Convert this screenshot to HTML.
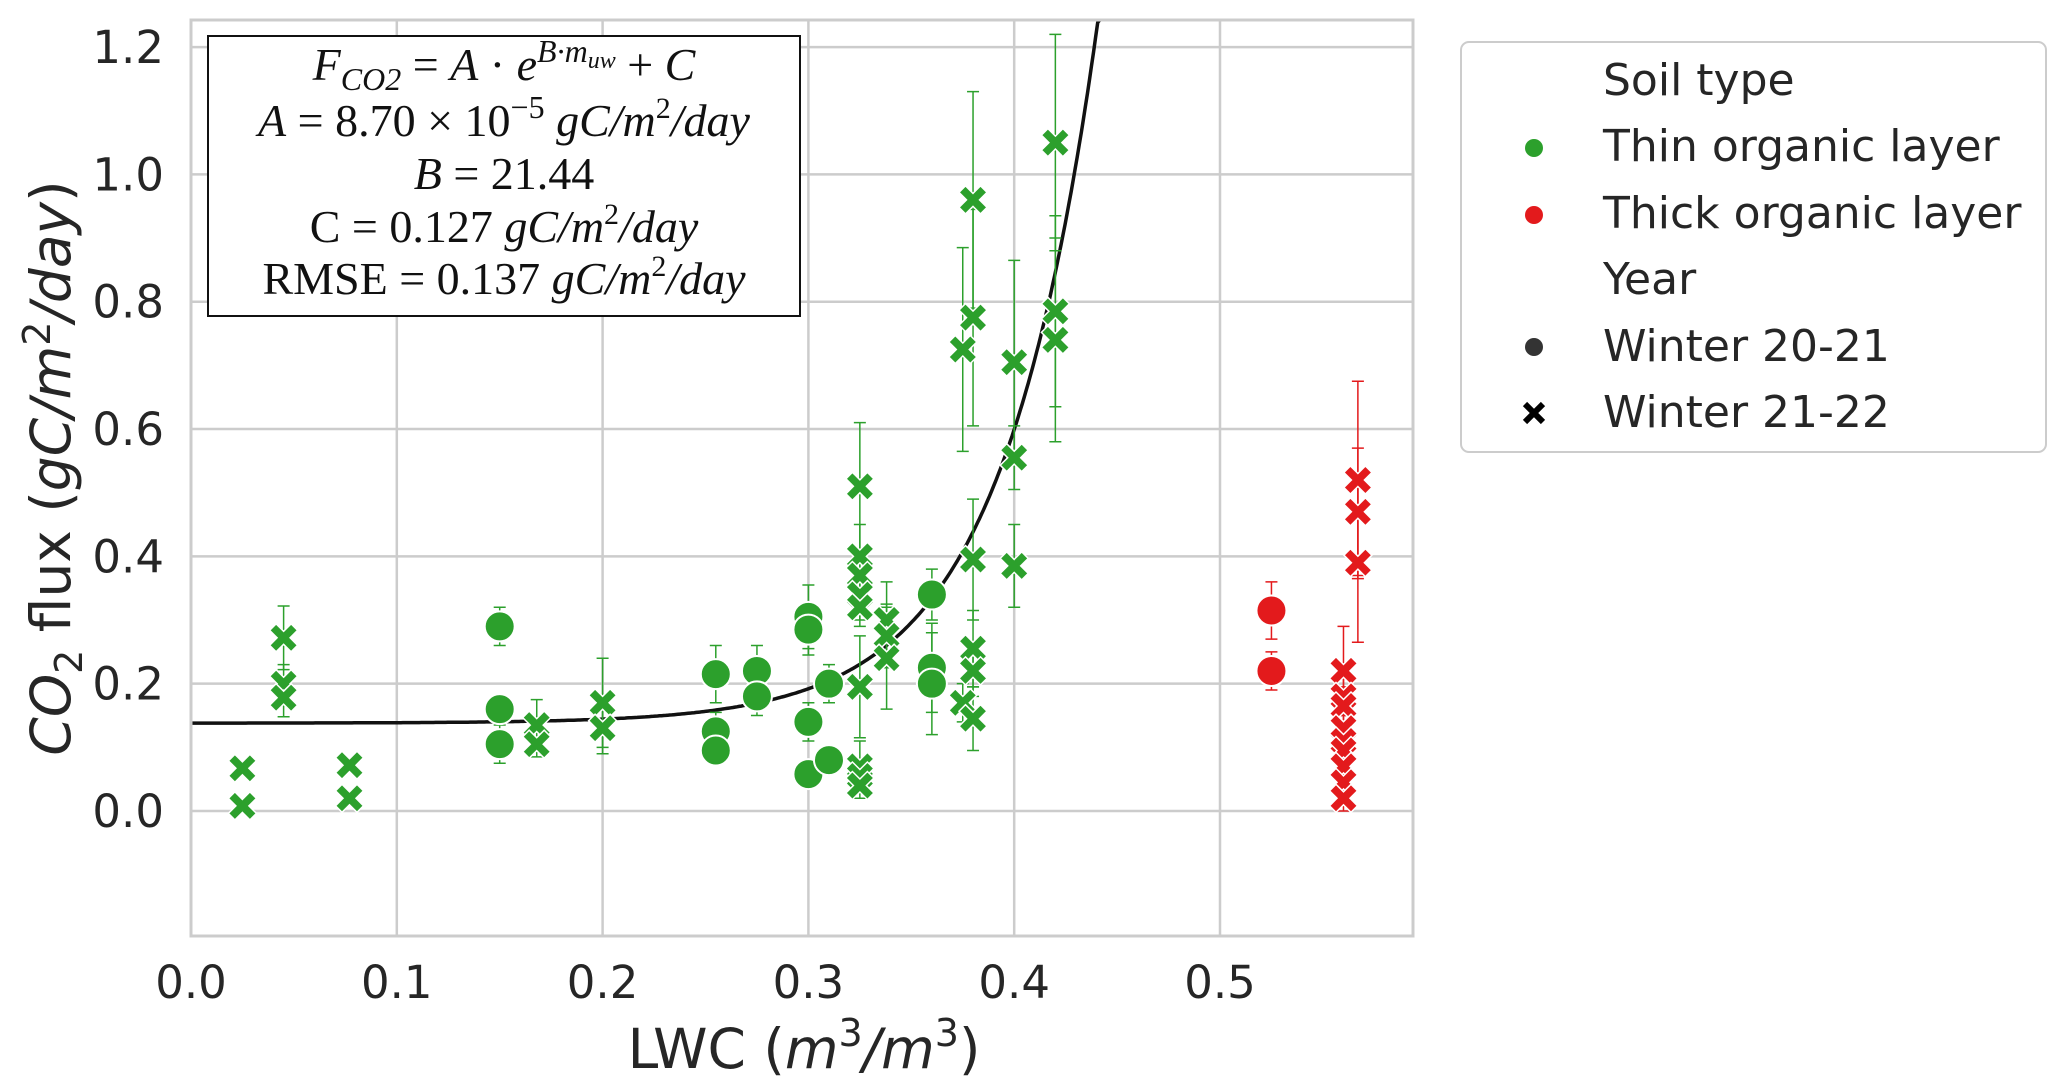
<!DOCTYPE html>
<html><head><meta charset="utf-8">
<style>
html,body{margin:0;padding:0;background:#fff;}
svg{display:block;}
text{font-family:"DejaVu Sans","Liberation Sans",sans-serif;fill:#262626;}
.mt{font-family:"Liberation Serif",serif;fill:#111;}
</style></head>
<body>
<svg id="chart" width="2067" height="1091" viewBox="0 0 2067 1091" xmlns="http://www.w3.org/2000/svg">
  <g id="grid"></g>
  <g id="curve"></g>
  <g id="points"></g>
  <g id="ticks"></g>
  <rect x="191" y="20" width="1222" height="916" fill="none" stroke="#cccccc" stroke-width="3"/>
  <g>
    <rect x="208" y="36" width="592" height="280" fill="#fff" stroke="#111" stroke-width="2"/>
    <text class="mt" x="504" y="80" text-anchor="middle" font-size="46"><tspan font-style="italic">F</tspan><tspan font-style="italic" font-size="32" dy="10">CO2</tspan><tspan dy="-10"> = </tspan><tspan font-style="italic">A</tspan> · <tspan font-style="italic">e</tspan><tspan font-style="italic" font-size="32" dy="-18">B·m</tspan><tspan font-style="italic" font-size="24" dy="6">uw</tspan><tspan dy="12">  + </tspan><tspan font-style="italic">C</tspan></text>
    <text class="mt" x="504" y="136" text-anchor="middle" font-size="46"><tspan font-style="italic">A</tspan> = 8.70 × 10<tspan font-size="32" dy="-18">−5</tspan><tspan dy="18" font-style="italic"> gC</tspan><tspan font-style="italic">/m</tspan><tspan font-size="30" dy="-18">2</tspan><tspan dy="18" font-style="italic">/day</tspan></text>
    <text class="mt" x="504" y="189" text-anchor="middle" font-size="46"><tspan font-style="italic">B</tspan> = 21.44</text>
    <text class="mt" x="504" y="242" text-anchor="middle" font-size="46">C = 0.127 <tspan font-style="italic">gC/m</tspan><tspan font-size="30" dy="-18">2</tspan><tspan dy="18" font-style="italic">/day</tspan></text>
    <text class="mt" x="504" y="294" text-anchor="middle" font-size="46">RMSE = 0.137 <tspan font-style="italic">gC/m</tspan><tspan font-size="30" dy="-18">2</tspan><tspan dy="18" font-style="italic">/day</tspan></text>
  </g>
  <text transform="translate(70,468) rotate(-90)" text-anchor="middle" font-size="55"><tspan font-style="italic">CO</tspan><tspan font-size="38" dy="12">2</tspan><tspan dy="-12"> flux (</tspan><tspan font-style="italic">gC/m</tspan><tspan font-size="38" dy="-20">2</tspan><tspan dy="20" font-style="italic">/day</tspan>)</text>
  <text x="804" y="1068" text-anchor="middle" font-size="55">LWC (<tspan font-style="italic">m</tspan><tspan font-size="38" dy="-22">3</tspan><tspan dy="22" font-style="italic">/m</tspan><tspan font-size="38" dy="-22">3</tspan><tspan dy="22">)</tspan></text>
  <g>
    <rect x="1461" y="42" width="585" height="410" rx="8" fill="#fff" stroke="#cccccc" stroke-width="2"/>
    <text x="1603" y="95" font-size="44">Soil type</text>
    <circle cx="1534" cy="148" r="9" fill="#2ca02c"/>
    <text x="1603" y="161" font-size="44">Thin organic layer</text>
    <circle cx="1534" cy="215" r="9" fill="#e31a1c"/>
    <text x="1603" y="228" font-size="44">Thick organic layer</text>
    <text x="1603" y="294" font-size="44">Year</text>
    <circle cx="1534" cy="347" r="9" fill="#333"/>
    <text x="1603" y="361" font-size="44">Winter 20-21</text>
    <path d="M1525,404 L1543,422 M1543,404 L1525,422" stroke="#000" stroke-width="6"/>
    <text x="1603" y="427" font-size="44">Winter 21-22</text>
  </g>
</svg>
<script>
const xTicks=[0.0,0.1,0.2,0.3,0.4,0.5];
const yTicks=[0.0,0.2,0.4,0.6,0.8,1.0,1.2];
const fitParams=[8.7e-5,21.44,0.138];
// thin layer, winter 20-21 (circles)
const thinCircX=[0.15,0.15,0.15,0.255,0.255,0.255,0.275,0.275,0.30,0.30,0.30,0.30,0.31,0.31,0.36,0.36,0.36];
const thinCircY=[0.29,0.16,0.105,0.215,0.125,0.095,0.22,0.18,0.305,0.285,0.14,0.058,0.2,0.08,0.34,0.225,0.2];
const thinCircE=[0.03,0.02,0.03,0.045,0.03,0.02,0.04,0.03,0.05,0.04,0.03,0.02,0.03,0.02,0.04,0.07,0.08];
// thin layer, winter 21-22 (X)
const thinXX=[0.025,0.025,0.045,0.045,0.045,0.077,0.077,0.168,0.168,0.2,0.2,0.325,0.325,0.325,0.325,0.325,0.325,0.325,0.325,0.325,0.338,0.338,0.338,0.375,0.375,0.38,0.38,0.38,0.38,0.38,0.38,0.40,0.40,0.40,0.42,0.42,0.42];
const thinXY=[0.067,0.008,0.272,0.2,0.178,0.072,0.02,0.135,0.105,0.17,0.13,0.51,0.4,0.37,0.34,0.32,0.195,0.07,0.055,0.04,0.3,0.275,0.24,0.725,0.17,0.96,0.775,0.395,0.255,0.22,0.145,0.705,0.555,0.385,1.05,0.785,0.74];
const thinXE=[0.01,0.01,0.05,0.03,0.03,0.01,0.01,0.04,0.02,0.07,0.04,0.1,0.05,0.04,0.04,0.03,0.08,0.04,0.02,0.02,0.06,0.05,0.08,0.16,0.03,0.17,0.17,0.095,0.06,0.04,0.05,0.16,0.05,0.065,0.17,0.15,0.16];
// thick layer
const thickCircX=[0.525,0.525];
const thickCircY=[0.315,0.22];
const thickCircE=[0.045,0.03];
const thickXX=[0.567,0.567,0.567,0.56,0.56,0.56,0.56,0.56,0.56,0.56,0.56,0.56];
const thickXY=[0.52,0.47,0.39,0.22,0.18,0.165,0.13,0.11,0.095,0.07,0.045,0.02];
const thickXE=[0.155,0.1,0.125,0.07,0.03,0.03,0.03,0.02,0.02,0.02,0.02,0.02];

const NS="http://www.w3.org/2000/svg";
const L=191,R=1413,T=20,B=936;
function sx(v){return 191+v*2058;}
function sy(v){return 811-v*636.6;}
function mk(tag,parent){const e=document.createElementNS(NS,tag);parent.appendChild(e);return e;}

const grid=document.getElementById('grid'),ticks=document.getElementById('ticks');
xTicks.forEach(t=>{
  const l=mk('line',grid);
  
  
  l.setAttribute('x1',sx(t));l.setAttribute('x2',sx(t));l.setAttribute('y1',T);l.setAttribute('y2',B);
  l.setAttribute('stroke','#cccccc');l.setAttribute('stroke-width','2.5');
  const tx=mk('text',ticks);
  
  
  tx.setAttribute('x',sx(t));tx.setAttribute('y',998);tx.setAttribute('text-anchor','middle');tx.setAttribute('font-size','45');
  tx.textContent=t.toFixed(1);
});
yTicks.forEach(t=>{
  const l=mk('line',grid);
  
  
  l.setAttribute('x1',L);l.setAttribute('x2',R);l.setAttribute('y1',sy(t));l.setAttribute('y2',sy(t));
  l.setAttribute('stroke','#cccccc');l.setAttribute('stroke-width','2.5');
  const tx=mk('text',ticks);
  
  
  tx.setAttribute('x',164);tx.setAttribute('y',sy(t)+16);tx.setAttribute('text-anchor','end');tx.setAttribute('font-size','45');
  tx.textContent=t.toFixed(1);
});

// curve
const cg=document.getElementById('curve');
let d='';
for(let i=0;i<=600;i++){
  const x=0.594*i/600;
  const y=fitParams[0]*Math.exp(fitParams[1]*x)+fitParams[2];
  if(sy(y)<T){ d+='L'+sx(x).toFixed(1)+','+T;break; }
  d+=(i?'L':'M')+sx(x).toFixed(1)+','+sy(y).toFixed(1);
}
const cp=mk('path',cg);


cp.setAttribute('d',d);cp.setAttribute('fill','none');cp.setAttribute('stroke','#111');cp.setAttribute('stroke-width','3.5');

const pg=document.getElementById('points');
function errbar(x,y,e,col){
  const g=mk('g',pg);
  
  
  const X=sx(x),y1=sy(y-e),y2=sy(y+e);
  const p=mk('path',g);
  p.setAttribute('d',`M${X},${y1}L${X},${y2}M${X-6},${y1}L${X+6},${y1}M${X-6},${y2}L${X+6},${y2}`);
  p.setAttribute('stroke',col);p.setAttribute('stroke-width','1.5');p.setAttribute('fill','none');
}
function circle(x,y,col){
  const c=mk('circle',pg);
  
  
  c.setAttribute('cx',sx(x));c.setAttribute('cy',sy(y));c.setAttribute('r','15');
  c.setAttribute('fill',col);c.setAttribute('stroke','#fff');c.setAttribute('stroke-width','2');
}
function xmark(x,y,col){
  const X=sx(x),Y=sy(y),a=14,w=6.5;
  const pts=[[0,-w],[a-w,-a],[a,-a+w],[w,0],[a,a-w],[a-w,a],[0,w],[-a+w,a],[-a,a-w],[-w,0],[-a,-a+w],[-a+w,-a]];
  const p=mk('polygon',pg);
  
  
  p.setAttribute('points',pts.map(q=>(X+q[0]).toFixed(1)+','+(Y+q[1]).toFixed(1)).join(' '));
  p.setAttribute('fill',col);p.setAttribute('stroke','#fff');p.setAttribute('stroke-width','1.5');
}
const G='#2ca02c',Rd='#e31a1c';
thinCircX.forEach((x,i)=>errbar(x,thinCircY[i],thinCircE[i],G));
thinXX.forEach((x,i)=>errbar(x,thinXY[i],thinXE[i],G));
thickCircX.forEach((x,i)=>errbar(x,thickCircY[i],thickCircE[i],Rd));
thickXX.forEach((x,i)=>errbar(x,thickXY[i],thickXE[i],Rd));
thinCircX.forEach((x,i)=>circle(x,thinCircY[i],G));
thinXX.forEach((x,i)=>xmark(x,thinXY[i],G));
thickCircX.forEach((x,i)=>circle(x,thickCircY[i],Rd));
thickXX.forEach((x,i)=>xmark(x,thickXY[i],Rd));
</script>
</body></html>
